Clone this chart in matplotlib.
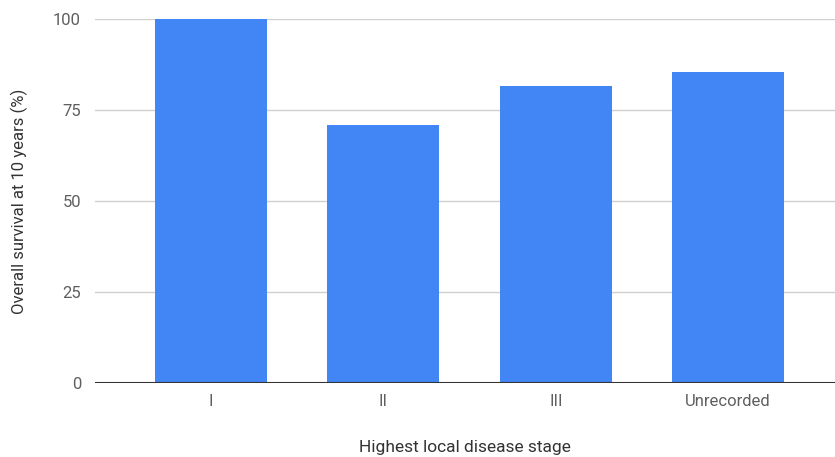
import matplotlib.pyplot as plt

# 10-year overall survival by highest local disease stage
stages = ["I", "II", "III", "Unrecorded"]
survival = [100, 71, 81.5, 85.5]
yticks = [0, 25, 50, 75, 100]

plt.rcParams["font.family"] = ["Roboto", "DejaVu Sans"]

fig = plt.figure(figsize=(8.35, 4.57), dpi=100)
ax = fig.add_axes([95 / 835, 74 / 457, 740 / 835, 364 / 457])

x = range(len(stages))
ax.bar(x, survival, width=0.65, color="#4285f4", zorder=3)

ax.set_xlim(-0.673, 3.62)
ax.set_ylim(0, 100)
ax.set_xticks(list(x))
ax.set_xticklabels(stages)
ax.set_yticks(yticks)

ax.grid(True, axis="y", color="#d0d0d0", linewidth=1.0, zorder=0)
ax.axhline(0, color="#333333", linewidth=1.5, zorder=4)
for side in ["top", "right", "left", "bottom"]:
    ax.spines[side].set_visible(False)

ax.tick_params(axis="both", length=0, labelsize=12, colors="#5f5f5f")
ax.tick_params(axis="x", pad=8)
ax.tick_params(axis="y", pad=10)

ax.set_xlabel("Highest local disease stage", fontsize=12.5, color="#333333", labelpad=22)
ax.set_ylabel("Overall survival at 10 years (%)", fontsize=12, color="#333333", labelpad=18)

fig.savefig("out.png", dpi=100)
